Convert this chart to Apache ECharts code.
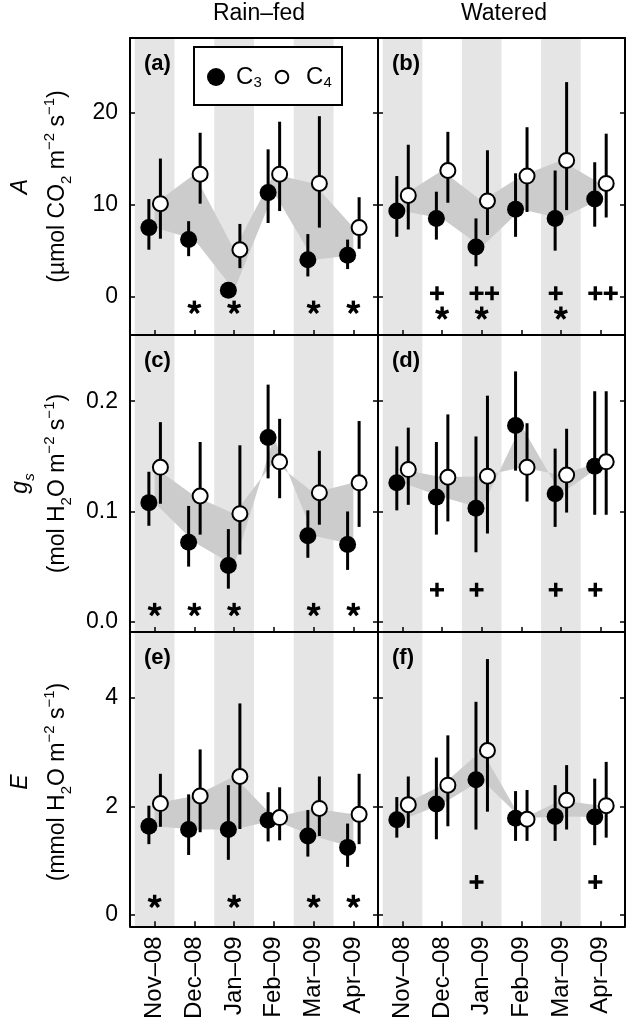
<!DOCTYPE html>
<html><head><meta charset="utf-8">
<script src="https://cdn.jsdelivr.net/npm/echarts@6/dist/echarts.min.js"></script>
<style>html,body{margin:0;padding:0;background:#fff}#c{width:628px;height:1022px}</style>
</head><body><div id="c"></div>
<script>
// ---------- data ----------
const months = ['Nov–08', 'Dec–08', 'Jan–09', 'Feb–09', 'Mar–09', 'Apr–09'];
const shadedMonths = [0, 2, 4];
const xTicks = [0, 1, 2, 3, 4, 5];

const aTicks = [0, 10, 20];
const gTicks = [0, 0.1, 0.2];
const eTicks = [0, 2, 4];

// (a) Rain-fed, A
const aRainC3   = [7.5, 6.2, 0.7, 11.3, 4.0, 4.5];
const aRainC3Lo = [5.1, 4.4, 0.3, 8.0, 2.2, 3.0];
const aRainC3Hi = [10.6, 8.2, 1.2, 16.0, 6.8, 6.2];
const aRainC4   = [10.1, 13.3, 5.1, 13.3, 12.3, 7.5];
const aRainC4Lo = [6.3, 10.1, 3.1, 9.3, 7.5, 5.2];
const aRainC4Hi = [15.0, 17.8, 7.9, 19.0, 19.6, 10.8];
const aRainStars = [1, 2, 4, 5];
const aRainPlus = [];

// (b) Watered, A
const aWatC3   = [9.3, 8.5, 5.4, 9.5, 8.5, 10.6];
const aWatC3Lo = [6.5, 6.2, 3.3, 6.5, 5.0, 7.6];
const aWatC3Hi = [13.1, 11.4, 8.5, 13.4, 13.7, 14.6];
const aWatC4   = [11.0, 13.7, 10.4, 13.1, 14.8, 12.3];
const aWatC4Lo = [7.3, 10.2, 6.7, 9.2, 9.4, 8.6];
const aWatC4Hi = [16.5, 17.9, 15.9, 18.4, 23.3, 17.7];
const aWatStars = [1, 2, 4];
const aWatPlus = [[1, 1], [2, 2], [4, 1], [5, 2]];

// (c) Rain-fed, gs
const gRainC3   = [0.108, 0.072, 0.051, 0.167, 0.078, 0.070];
const gRainC3Lo = [0.087, 0.050, 0.030, 0.130, 0.058, 0.047];
const gRainC3Hi = [0.136, 0.105, 0.084, 0.215, 0.101, 0.100];
const gRainC4   = [0.140, 0.114, 0.098, 0.145, 0.117, 0.126];
const gRainC4Lo = [0.107, 0.079, 0.061, 0.112, 0.088, 0.086];
const gRainC4Hi = [0.181, 0.163, 0.160, 0.184, 0.155, 0.182];
const gRainStars = [0, 1, 2, 4, 5];
const gRainPlus = [];

// (d) Watered, gs
const gWatC3   = [0.126, 0.113, 0.103, 0.178, 0.116, 0.141];
const gWatC3Lo = [0.101, 0.079, 0.063, 0.137, 0.086, 0.097];
const gWatC3Hi = [0.159, 0.163, 0.168, 0.227, 0.157, 0.209];
const gWatC4   = [0.138, 0.131, 0.132, 0.140, 0.133, 0.145];
const gWatC4Lo = [0.106, 0.091, 0.080, 0.109, 0.099, 0.097];
const gWatC4Hi = [0.176, 0.188, 0.205, 0.180, 0.175, 0.209];
const gWatStars = [];
const gWatPlus = [[1, 1], [2, 1], [4, 1], [5, 1]];

// (e) Rain-fed, E
const eRainC3   = [1.63, 1.57, 1.57, 1.74, 1.45, 1.24];
const eRainC3Lo = [1.30, 1.10, 1.01, 1.35, 1.07, 0.88];
const eRainC3Hi = [2.01, 2.22, 2.39, 2.26, 1.93, 1.68];
const eRainC4   = [2.05, 2.19, 2.55, 1.79, 1.96, 1.85];
const eRainC4Lo = [1.62, 1.52, 1.58, 1.37, 1.45, 1.30];
const eRainC4Hi = [2.60, 3.05, 3.90, 2.35, 2.55, 2.60];
const eRainStars = [0, 2, 4, 5];
const eRainPlus = [];

// (f) Watered, E
const eWatC3   = [1.75, 2.04, 2.49, 1.78, 1.81, 1.80];
const eWatC3Lo = [1.42, 1.39, 1.57, 1.36, 1.36, 1.28];
const eWatC3Hi = [2.17, 2.90, 3.93, 2.28, 2.39, 2.51];
const eWatC4   = [2.03, 2.39, 3.03, 1.76, 2.11, 2.01];
const eWatC4Lo = [1.60, 1.63, 1.90, 1.36, 1.57, 1.42];
const eWatC4Hi = [2.55, 3.31, 4.72, 2.30, 2.76, 2.82];
const eWatStars = [];
const eWatPlus = [[2, 1], [5, 1]];

// ---------- layout / style ----------
const FONT = "'Liberation Sans', Arial, Helvetica, sans-serif";
const colLeft = [130, 378], colWidth = [248, 247];
const rowTop = [38, 335, 632], rowHeight = [297, 297, 300];
const xMin = -0.62, xMax = 5.62, off = 0.145;
const rowAxis = [
  {min: -4.16, max: 28.09, ticks: aTicks, fmt: v => String(v), starY: [-1.1, -1.74], plusY: 0.37},
  {min: -0.0093, max: 0.26, ticks: gTicks, fmt: v => v.toFixed(1), starY: [0.0115, 0.0115], plusY: 0.029},
  {min: -0.218, max: 5.22, ticks: eTicks, fmt: v => String(v), starY: [0.25, 0.25], plusY: 0.6}
];
const panels = [
  {lab: '(a)', row: 0, col: 0, c3: aRainC3, c3lo: aRainC3Lo, c3hi: aRainC3Hi, c4: aRainC4, c4lo: aRainC4Lo, c4hi: aRainC4Hi, stars: aRainStars, plus: aRainPlus},
  {lab: '(b)', row: 0, col: 1, c3: aWatC3, c3lo: aWatC3Lo, c3hi: aWatC3Hi, c4: aWatC4, c4lo: aWatC4Lo, c4hi: aWatC4Hi, stars: aWatStars, plus: aWatPlus},
  {lab: '(c)', row: 1, col: 0, c3: gRainC3, c3lo: gRainC3Lo, c3hi: gRainC3Hi, c4: gRainC4, c4lo: gRainC4Lo, c4hi: gRainC4Hi, stars: gRainStars, plus: gRainPlus},
  {lab: '(d)', row: 1, col: 1, c3: gWatC3, c3lo: gWatC3Lo, c3hi: gWatC3Hi, c4: gWatC4, c4lo: gWatC4Lo, c4hi: gWatC4Hi, stars: gWatStars, plus: gWatPlus},
  {lab: '(e)', row: 2, col: 0, c3: eRainC3, c3lo: eRainC3Lo, c3hi: eRainC3Hi, c4: eRainC4, c4lo: eRainC4Lo, c4hi: eRainC4Hi, stars: eRainStars, plus: eRainPlus},
  {lab: '(f)', row: 2, col: 1, c3: eWatC3, c3lo: eWatC3Lo, c3hi: eWatC3Hi, c4: eWatC4, c4lo: eWatC4Lo, c4hi: eWatC4Hi, stars: eWatStars, plus: eWatPlus}
];

const grid = [], xAxis = [], yAxis = [], series = [], graphic = [];
const black = '#000';

panels.forEach((p, i) => {
  const ra = rowAxis[p.row];
  grid.push({left: colLeft[p.col], top: rowTop[p.row], width: colWidth[p.col], height: rowHeight[p.row], containLabel: false});
  const axLine = {show: true, onZero: false, lineStyle: {color: black, width: 2}};
  xAxis.push({
    gridIndex: i, type: 'value', min: xMin, max: xMax, position: 'bottom', z: 10,
    axisLine: axLine, splitLine: {show: false},
    axisTick: {show: true, inside: true, length: 5, customValues: xTicks, lineStyle: {color: black, width: 1.5}},
    axisLabel: {show: p.row === 2, customValues: xTicks, formatter: v => months[Math.round(v)], rotate: 90,
      fontSize: 24, fontFamily: FONT, color: black, margin: 10}
  });
  xAxis.push({gridIndex: i, type: 'value', min: xMin, max: xMax, position: 'top', z: 10,
    axisLine: axLine, axisTick: {show: false}, axisLabel: {show: false}, splitLine: {show: false}});
  yAxis.push({
    gridIndex: i, type: 'value', min: ra.min, max: ra.max, position: 'left', z: 10,
    axisLine: axLine, splitLine: {show: false},
    axisTick: {show: true, inside: true, length: 5, customValues: ra.ticks, lineStyle: {color: black, width: 1.5}},
    axisLabel: {show: p.col === 0, customValues: ra.ticks, formatter: ra.fmt, fontSize: 23, fontFamily: FONT, color: black, margin: 12}
  });
  yAxis.push({
    gridIndex: i, type: 'value', min: ra.min, max: ra.max, position: 'right', z: 10,
    axisLine: axLine, splitLine: {show: false},
    axisTick: {show: true, inside: true, length: 5, customValues: ra.ticks, lineStyle: {color: black, width: 1.5}},
    axisLabel: {show: false}
  });
  const xi = i * 2, yi = i * 2;

  // shaded month bands
  series.push({
    type: 'custom', xAxisIndex: xi, yAxisIndex: yi, z: 1, silent: true,
    data: shadedMonths.map(m => [m, 0]),
    renderItem: (params, api) => {
      const m = api.value(0);
      const a = api.coord([Math.max(m - 0.5, xMin), ra.max]);
      const b = api.coord([Math.min(m + 0.5, xMax), ra.min]);
      return {type: 'rect', shape: {x: a[0], y: a[1], width: b[0] - a[0], height: b[1] - a[1]}, style: {fill: '#e5e5e5'}};
    }
  });
  // ribbon between C3 and C4 means
  series.push({
    type: 'custom', xAxisIndex: xi, yAxisIndex: yi, z: 2, silent: true,
    data: [[0, 0]],
    renderItem: (params, api) => {
      const pts = [];
      p.c4.forEach((v, k) => pts.push(api.coord([k, v])));
      for (let k = p.c3.length - 1; k >= 0; k--) pts.push(api.coord([k, p.c3[k]]));
      return {type: 'polygon', shape: {points: pts}, style: {fill: '#cccccc'}};
    }
  });
  // error bars
  const bars = [];
  p.c3.forEach((v, k) => bars.push([k - off, p.c3lo[k], p.c3hi[k]]));
  p.c4.forEach((v, k) => bars.push([k + off, p.c4lo[k], p.c4hi[k]]));
  series.push({
    type: 'custom', xAxisIndex: xi, yAxisIndex: yi, z: 3, silent: true,
    data: bars,
    renderItem: (params, api) => {
      const a = api.coord([api.value(0), api.value(1)]);
      const b = api.coord([api.value(0), api.value(2)]);
      return {type: 'line', shape: {x1: a[0], y1: a[1], x2: b[0], y2: b[1]}, style: {stroke: black, lineWidth: 3}};
    }
  });
  // points
  series.push({
    type: 'scatter', name: 'C3', xAxisIndex: xi, yAxisIndex: yi, z: 4, silent: true,
    symbol: 'circle', symbolSize: 17, itemStyle: {color: black, opacity: 1},
    data: p.c3.map((v, k) => [k - off, v])
  });
  series.push({
    type: 'scatter', name: 'C4', xAxisIndex: xi, yAxisIndex: yi, z: 5, silent: true,
    symbol: 'circle', symbolSize: 15, itemStyle: {color: '#fff', borderColor: black, borderWidth: 2, opacity: 1},
    data: p.c4.map((v, k) => [k + off, v])
  });
  // significance marks
  const marks = p.stars.map(m => [m, ra.starY[p.col], 0]);
  p.plus.forEach(([m, n]) => { for (let k = 0; k < n; k++) marks.push([m - 0.13 + 0.39 * k, ra.plusY, 1]); });
  series.push({
    type: 'custom', xAxisIndex: xi, yAxisIndex: yi, z: 6, silent: true,
    data: marks,
    renderItem: (params, api) => {
      const c = api.coord([api.value(0), api.value(1)]);
      const st = {stroke: black, lineWidth: 3.4};
      if (api.value(2) === 1) {
        return {type: 'group', children: [
          {type: 'line', shape: {x1: c[0] - 7, y1: c[1], x2: c[0] + 7, y2: c[1]}, style: st},
          {type: 'line', shape: {x1: c[0], y1: c[1] - 7, x2: c[0], y2: c[1] + 7}, style: st}
        ]};
      }
      const r = 6.8, ch = [];
      for (let k = 0; k < 5; k++) {
        const a = (-90 + 72 * k) * Math.PI / 180;
        ch.push({type: 'line', shape: {x1: c[0], y1: c[1] + 0.6, x2: c[0] + r * Math.cos(a), y2: c[1] + 0.6 + r * Math.sin(a)}, style: st});
      }
      return {type: 'group', children: ch};
    }
  });
  // panel label
  graphic.push({type: 'text', z: 20, x: colLeft[p.col] + 14, y: rowTop[p.row] + 26,
    style: {text: p.lab, font: 'bold 22px ' + FONT, fill: black, align: 'left', verticalAlign: 'middle'}});
});

// column titles
graphic.push({type: 'text', z: 20, x: 259, y: 14, style: {text: 'Rain–fed', font: '23px ' + FONT, fill: black, align: 'center', verticalAlign: 'middle'}});
graphic.push({type: 'text', z: 20, x: 504, y: 14, style: {text: 'Watered', font: '23px ' + FONT, fill: black, align: 'center', verticalAlign: 'middle'}});

// legend
graphic.push({type: 'rect', z: 20, shape: {x: 194, y: 47, width: 148, height: 58}, style: {fill: '#fff', stroke: black, lineWidth: 2}});
graphic.push({type: 'circle', z: 21, shape: {cx: 216, cy: 77, r: 9}, style: {fill: black}});
graphic.push({type: 'circle', z: 21, shape: {cx: 282, cy: 77, r: 6.3}, style: {fill: '#fff', stroke: black, lineWidth: 2}});
graphic.push({type: 'text', z: 21, x: 236, y: 77, style: {text: 'C', font: '24px ' + FONT, fill: black, align: 'left', verticalAlign: 'middle'}});
graphic.push({type: 'text', z: 21, x: 253.5, y: 82.5, style: {text: '3', font: '15px ' + FONT, fill: black, align: 'left', verticalAlign: 'middle'}});
graphic.push({type: 'text', z: 21, x: 306, y: 77, style: {text: 'C', font: '24px ' + FONT, fill: black, align: 'left', verticalAlign: 'middle'}});
graphic.push({type: 'text', z: 21, x: 323.5, y: 82.5, style: {text: '4', font: '15px ' + FONT, fill: black, align: 'left', verticalAlign: 'middle'}});

// y-axis titles
const richBase = {
  n: {fontSize: 23, lineHeight: 32, fontFamily: FONT, fill: black, verticalAlign: 'middle'},
  i: {fontSize: 23, lineHeight: 32, fontFamily: FONT, fontStyle: 'italic', fill: black, verticalAlign: 'middle'},
  sub: {fontSize: 15, lineHeight: 15, fontFamily: FONT, fill: black, verticalAlign: 'bottom'},
  isub: {fontSize: 15, lineHeight: 15, fontFamily: FONT, fontStyle: 'italic', fill: black, verticalAlign: 'bottom'},
  sup: {fontSize: 15, lineHeight: 15, fontFamily: FONT, fill: black, verticalAlign: 'top'}
};
const yTitles = [
  {sym: '{i|A}', unit: '{n|(µmol CO}{sub|2}{n| m}{sup|−2}{n| s}{sup|−1}{n|)}'},
  {sym: '{i|g}{isub|s}', unit: '{n|(mol H}{sub|2}{n|O m}{sup|−2}{n| s}{sup|−1}{n|)}'},
  {sym: '{i|E}', unit: '{n|(mmol H}{sub|2}{n|O m}{sup|−2}{n| s}{sup|−1}{n|)}'}
];
yTitles.forEach((t, r) => {
  const cy = rowTop[r] + rowHeight[r] / 2;
  graphic.push({type: 'text', z: 20, x: 21, y: cy, rotation: Math.PI / 2,
    style: {text: t.sym, rich: richBase, align: 'center', verticalAlign: 'middle'}});
  graphic.push({type: 'text', z: 20, x: 58, y: cy, rotation: Math.PI / 2,
    style: {text: t.unit, rich: richBase, align: 'center', verticalAlign: 'middle'}});
});

const chart = echarts.init(document.getElementById('c'), null, {renderer: 'canvas'});
chart.setOption({
  animation: false,
  backgroundColor: '#fff',
  textStyle: {fontFamily: FONT},
  grid, xAxis, yAxis, series, graphic
});
</script></body></html>
